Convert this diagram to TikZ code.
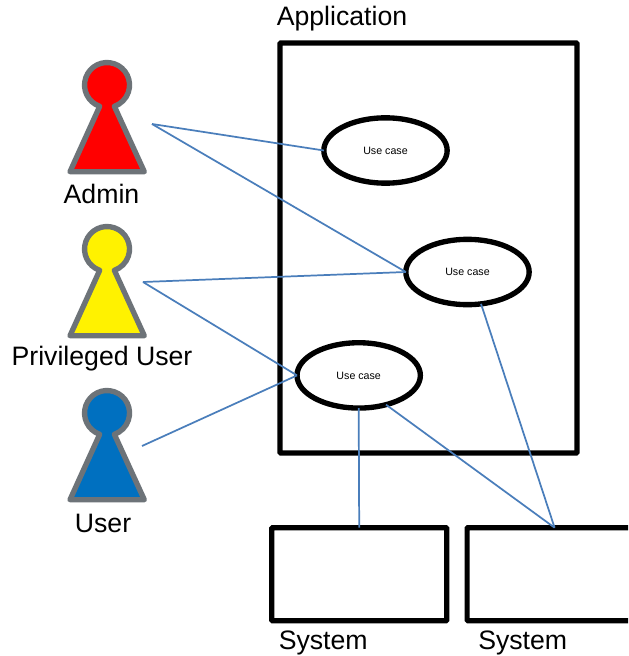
\documentclass[tikz,border=0pt]{standalone}
\usepackage{fontspec}
\setmainfont{Liberation Sans}
\usetikzlibrary{shapes.geometric}
\definecolor{wire}{HTML}{4A7EBB}
\definecolor{pawnedge}{HTML}{6D7378}
\definecolor{pawnblue}{HTML}{0070C0}
\tikzset{
  px/.style={x=0.75pt,y=-0.75pt},
  frame/.style={draw=black,line width=3.9pt,rounded corners=0.6pt,fill=white,inner sep=0pt,outer sep=0pt},
  usecase/.style={ellipse,draw=black,line width=4pt,fill=white,minimum width=92.5pt,minimum height=49pt,inner sep=0pt,outer sep=0pt,font=\fontsize{8}{9}\selectfont},
  wirel/.style={draw=wire,line width=1.3pt},
  lbl/.style={inner sep=0pt,font=\fontsize{20}{22}\selectfont,text=black},
  pawn/.style={draw=pawnedge,line width=4pt,line join=round}
}
\newcommand{\pawnshape}[2]{%
  \begin{scope}[yshift=-#1*0.75pt]
    \draw[pawn,fill=#2] (99.7,106.3) arc[start angle=109,end angle=431,radius=22.5] -- (144.3,171.7) -- (70,171.7) -- cycle;
  \end{scope}}
\begin{document}
\begin{tikzpicture}[px]
\useasboundingbox (0,0) rectangle (628,656);
\clip (0,0) rectangle (628,656);
\fill[white] (0,0) rectangle (628,656);
\node[frame,minimum width=222.75pt,minimum height=307.5pt] (app) at (428.5,248) {};
\node[frame,minimum width=131.25pt,minimum height=69.75pt] (s1) at (359.2,574.2) {};
\node[frame,minimum width=131.25pt,minimum height=69.75pt] (s2) at (554.6,574.2) {};
\node[usecase] (e1) at (385.5,150.5) {Use case};
\node[usecase] (e2) at (467.5,272) {Use case};
\node[usecase] (e3) at (358.7,375.4) {Use case};
\pawnshape{0}{red}
\pawnshape{164}{yellow}
\pawnshape{328}{pawnblue}
\coordinate (admin) at (152,124);
\coordinate (priv) at (143,282);
\coordinate (user) at (142,446);
\draw[wirel] (admin) -- (e1.west);
\draw[wirel] (admin) -- (e2.west);
\draw[wirel] (priv) -- (e2.west);
\draw[wirel] (priv) -- (e3.west);
\draw[wirel] (user) -- (e3.west);
\draw[wirel] (e3.south) -- (s1.north);
\draw[wirel] (e3.-47) -- (s2.north);
\draw[wirel] (e2.-67) -- (s2.north);
\node[lbl,anchor=base west] (tapp) at (276.5,26) {Application};
\node[lbl,anchor=base] (tadmin) at (101.5,203) {Admin};
\node[lbl,anchor=base] (tpriv) at (102,365) {Privileged User};
\node[lbl,anchor=base] (tuser) at (103,532) {User};
\node[lbl,anchor=base west] (ts1) at (278.5,649) {System};
\node[lbl,anchor=base west] (ts2) at (478,649) {System};
\end{tikzpicture}
\end{document}
